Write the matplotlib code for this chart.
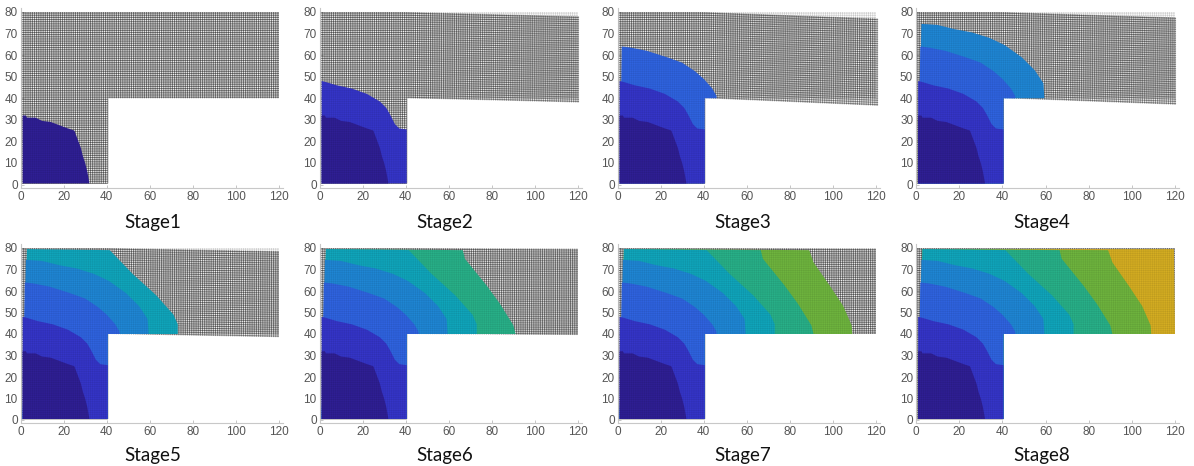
import numpy as np
import matplotlib
matplotlib.use("Agg")
import matplotlib.pyplot as plt
from matplotlib.collections import LineCollection

# each front is the outer edge of the plastic zone added in that stage
front1_x = [1, 2.5, 3, 7, 10, 14, 18, 22, 25, 26.5, 28, 29, 30, 31, 32]
front1_y = [32, 32, 31, 31, 29.5, 29, 27.5, 26, 25, 21, 17, 13, 10, 6, 0.5]
front2_x = [1, 3, 8, 15, 22, 28, 31, 33, 35, 37, 40.5]
front2_y = [48, 47.5, 46, 44.5, 42, 38.5, 35.5, 32, 28, 26, 25.5]
front3_x = [2, 6, 13.6, 23, 30, 36, 40, 44, 46, 46]
front3_y = [64, 63.5, 62, 59, 56.5, 52.5, 49, 44.5, 41, 40]
front4_x = [2.5, 10, 18, 26, 34, 41, 49, 55, 59, 59.5]
front4_y = [74.5, 74, 72, 70.5, 68, 64.7, 59, 53, 47, 40]
front5_x = [3, 41.4, 52, 63, 71, 73, 73]
front5_y = [79.5, 79, 68, 58, 49, 44.5, 40]
front6_x = [3, 66.5, 67.5, 77.6, 83.8, 90, 91]
front6_y = [79.5, 79, 75, 62.5, 54, 44, 40]
front7_x = [3, 89, 91, 98.6, 104.8, 108.7, 109]
front7_y = [79.5, 79, 73.3, 62.4, 53, 44, 40]
front8_x = [3, 119.5, 120]
front8_y = [79.5, 79.5, 40]

fronts = [(front1_x, front1_y), (front2_x, front2_y), (front3_x, front3_y), (front4_x, front4_y),
          (front5_x, front5_y), (front6_x, front6_y), (front7_x, front7_y), (front8_x, front8_y)]
colors = ["#2f1f94", "#3535c8", "#2f63df", "#1f86d4", "#10a5bb", "#28b088", "#6eb43e", "#d4ad22"]

stage_names = ["Stage1", "Stage2", "Stage3", "Stage4", "Stage5", "Stage6", "Stage7", "Stage8"]
# sag of the free end of the mesh at x=120, per stage
top_drop = [0, 2, 3, 2.5, 1.5, 0.5, 0.3, 0]
bottom_drop = [0, 2, 3.5, 3, 1.5, 0.5, 0, 0]
x_stretch = [0, 0.5, 1, 0.5, 0, 0, 0, 0]

x_ticks = [0, 20, 40, 60, 80, 100, 120]
y_ticks = [0, 10, 20, 30, 40, 50, 60, 70, 80]

W, H = 1194, 466
left_px = [20.5, 319.5, 617.5, 916]
right_px = [279, 578, 876, 1175]
label_px = [153, 445, 743, 1042]
row_y0 = [184.5, 420]
row_y80 = [12, 248]


def mesh_segments(drop_top, drop_bot, stretch):
    segs = []

    def warp(x, y):
        x = np.asarray(x, dtype=float)
        y = np.asarray(y, dtype=float)
        t = np.clip((x - 40) / 80, 0, 1)
        d = (drop_bot + (drop_top - drop_bot) * np.clip((y - 40) / 40, 0, 1)) * t
        d = d * np.clip(y / 40, 0, 1)
        return x + stretch * t, y - d

    for v in np.arange(0.5, 80.5, 1):
        end = 40.5 if v < 40 else 120
        xs = np.linspace(0.5, end, 30)
        segs.append(np.column_stack(warp(xs, np.full_like(xs, v))))
    for v in np.arange(0.5, 120.5, 1):
        start = 0.5 if v <= 40.5 else 40
        ys = np.linspace(start, 80, 20)
        segs.append(np.column_stack(warp(np.full_like(ys, v), ys)))
    return segs


def front_polygon(fx, fy):
    xs = list(fx)
    ys = list(fy)
    if xs[-1] > 40.5:
        xs.append(40.5)
        ys.append(40)
    if xs[-1] >= 40:
        xs.append(40.5)
        ys.append(0.5)
    else:
        xs.append(xs[-1])
        ys.append(0.5)
    xs.append(1)
    ys.append(0.5)
    return xs, ys


def add_mesh(ax, segs, lw, alpha, z):
    lc = LineCollection(segs, colors="#000000", linewidths=lw, alpha=alpha, zorder=z)
    lc.set_snap(False)
    ax.add_collection(lc)


fig = plt.figure(figsize=(W / 100, H / 100), dpi=100)

for i, name in enumerate(stage_names):
    row = i // 4
    col = i % 4
    x0 = left_px[col]
    ux = (right_px[col] - x0) / 120
    y0 = row_y0[row]
    uy = (y0 - row_y80[row]) / 80
    ax = fig.add_axes([x0 / W, 1 - (y0 + 1.5 * uy) / H, 122 * ux / W, 83.5 * uy / H])
    ax.set_xlim(0, 122)
    ax.set_ylim(-1.5, 82)

    # faint undeformed mesh, then the deformed one
    add_mesh(ax, mesh_segments(0, 0, 0), 0.5, 0.1, 1)
    add_mesh(ax, mesh_segments(top_drop[i], bottom_drop[i], x_stretch[i]), 0.85, 0.36, 2)

    for k in range(i, -1, -1):
        px, py = front_polygon(*fronts[k])
        ax.fill(px, py, color=colors[k], lw=0, zorder=3)
    add_mesh(ax, mesh_segments(0, 0, 0), 0.5, 0.07, 4)

    ax.set_xticks(x_ticks)
    ax.set_yticks(y_ticks)
    ax.tick_params(direction="in", length=2, width=0.6, color="#bbbbbb", labelcolor="#555555",
                   labelsize=8.5, pad=2)
    for lab in ax.get_xticklabels() + ax.get_yticklabels():
        lab.set_family("Liberation Sans")
    ax.spines["top"].set_visible(False)
    ax.spines["right"].set_visible(False)
    ax.spines["left"].set_color("#c8c8c8")
    ax.spines["bottom"].set_color("#c8c8c8")
    ax.patch.set_alpha(0)

    label_y = [222, 456][row]
    fig.text(label_px[col] / W, 1 - label_y / H, name, ha="center", va="center", fontsize=13.5,
             family="Lato", color="#111111")

fig.savefig("out.png", dpi=100)
